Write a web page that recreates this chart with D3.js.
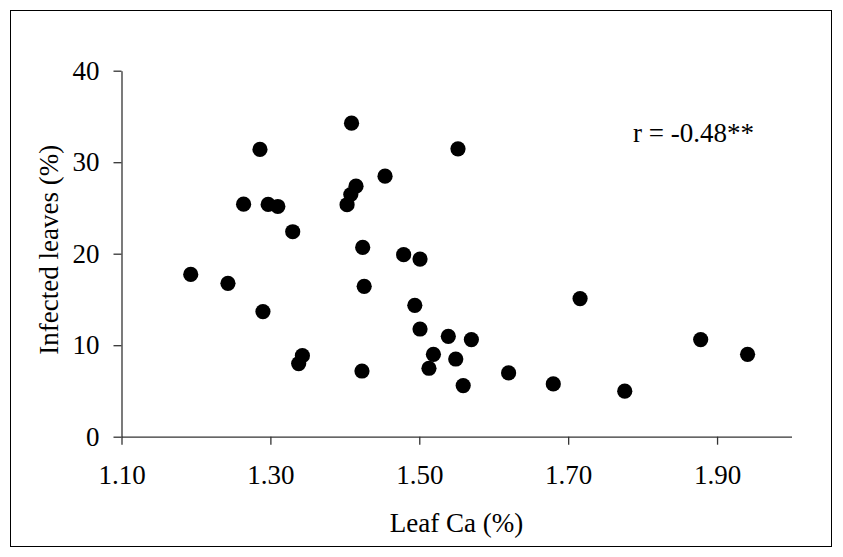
<!DOCTYPE html>
<html>
<head>
<meta charset="utf-8">
<script src="https://cdn.jsdelivr.net/npm/d3@7"></script>
<style>
html,body{margin:0;padding:0;background:#fff;}
svg{display:block;}
text{font-family:"Liberation Serif","Times New Roman",serif;fill:#000;}
</style>
</head>
<body>
<svg id="chart" width="843" height="557"></svg>
<script>
const leafCa = [1.193,1.243,1.264,1.286,1.290,1.297,1.310,1.330,1.338,1.343,1.403,1.408,1.409,1.415,1.423,1.424,1.426,1.454,1.479,1.494,1.501,1.501,1.513,1.519,1.539,1.549,1.552,1.559,1.570,1.620,1.680,1.716,1.776,1.878,1.941];
const infected = [17.74,16.76,25.41,31.4,13.67,25.38,25.16,22.4,7.99,8.86,25.35,26.47,34.26,27.38,7.18,20.69,16.43,28.47,19.89,14.36,19.41,11.77,7.48,9.0,10.97,8.49,31.46,5.59,10.61,6.97,5.77,15.1,4.97,10.61,9.0];
const xTicks = [1.10,1.30,1.50,1.70,1.90];
const yTicks = [0,10,20,30,40];
const xTitle = "Leaf Ca (%)";
const yTitle = "Infected leaves (%)";
const annotation = "r = -0.48**";

const svg = d3.select("#chart");
const pLeft = 121.5, pRight = 791.5, pTop = 70.7, pBottom = 436.7;
const x = d3.scaleLinear().domain([1.10, 2.00]).range([pLeft, pRight]);
const y = d3.scaleLinear().domain([0, 40]).range([pBottom, pTop]);

// outer frame
svg.append("rect").attr("x",10.5).attr("y",10.5).attr("width",821).attr("height",536)
  .attr("fill","none").attr("stroke","#000").attr("stroke-width",1);

const axisColor = "#333";
// x axis
const gx = svg.append("g").attr("transform",`translate(0,${pBottom})`)
  .call(d3.axisBottom(x).tickValues(xTicks).tickFormat(d3.format(".2f")).tickSize(8).tickSizeOuter(0).tickPadding(20));
gx.select(".domain").attr("stroke",axisColor).attr("stroke-width",1.3);
gx.selectAll(".tick line").attr("stroke",axisColor).attr("stroke-width",1.3);
gx.selectAll("text").style("font-size","27px").attr("font-family",null);

// y axis
const gy = svg.append("g").attr("transform",`translate(${pLeft},0)`)
  .call(d3.axisLeft(y).tickValues(yTicks).tickFormat(d3.format("d")).tickSize(8).tickSizeOuter(0).tickPadding(14));
gy.select(".domain").attr("stroke",axisColor).attr("stroke-width",1.3);
gy.selectAll(".tick line").attr("stroke",axisColor).attr("stroke-width",1.3);
gy.selectAll("text").style("font-size","27px").attr("font-family",null);

// points
svg.append("g").selectAll("circle").data(leafCa.map((v,i)=>[v,infected[i]])).join("circle")
  .attr("cx",d=>x(d[0])).attr("cy",d=>y(d[1])).attr("r",7.6).attr("fill","#000");

// titles
svg.append("text").attr("x",(pLeft+pRight)/2).attr("y",532).attr("text-anchor","middle")
  .style("font-size","27px").text(xTitle);
svg.append("text").attr("transform",`translate(58,${(pTop+pBottom)/2-4}) rotate(-90)`).attr("text-anchor","middle")
  .style("font-size","27px").text(yTitle);
svg.append("text").attr("x",633).attr("y",142).style("font-size","27px").text(annotation);
</script>
</body>
</html>
